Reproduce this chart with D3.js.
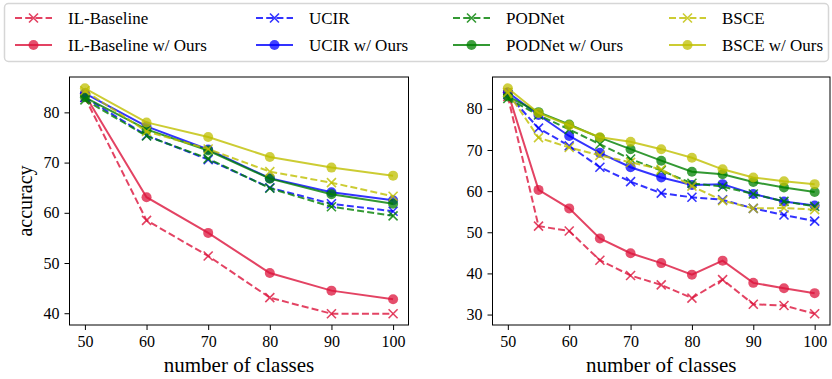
<!DOCTYPE html>
<html>
<head>
<meta charset="utf-8">
<script src="https://cdn.jsdelivr.net/npm/d3@7"></script>
<style>
  body { margin: 0; background: #fff; }
  svg { font-family: "Liberation Serif", "Times New Roman", serif; }
</style>
</head>
<body>
<div id="chart"></div>
<script>
// data
var leftClasses = [50, 60, 70, 80, 90, 100];
var rightClasses = [50, 55, 60, 65, 70, 75, 80, 85, 90, 95, 100];

var leftIL = [83.0, 58.5, 51.4, 43.1, 39.9, 39.9];
var leftILOurs = [83.5, 63.1, 56.0, 48.0, 44.5, 42.8];
var leftUCIR = [83.0, 75.4, 70.6, 65.0, 61.8, 60.3];
var leftUCIROurs = [83.8, 77.2, 72.6, 66.9, 64.1, 62.5];
var leftPOD = [82.5, 75.3, 70.8, 64.9, 61.2, 59.4];
var leftPODOurs = [83.0, 76.6, 72.4, 66.8, 63.7, 61.8];
var leftBSCE = [84.3, 76.2, 72.7, 68.2, 66.0, 63.3];
var leftBSCEOurs = [84.8, 78.0, 75.1, 71.1, 69.0, 67.4];

var rightIL = [83.0, 51.5, 50.3, 43.2, 39.5, 37.2, 34.0, 38.5, 32.5, 32.2, 30.2];
var rightILOurs = [84.0, 60.3, 55.8, 48.5, 44.9, 42.5, 39.7, 43.1, 37.7, 36.4, 35.2];
var rightUCIR = [83.5, 75.3, 71.0, 65.8, 62.3, 59.5, 58.5, 57.9, 55.8, 54.2, 52.7];
var rightUCIROurs = [84.0, 78.5, 73.4, 69.3, 65.8, 63.3, 61.5, 61.7, 59.3, 57.5, 56.5];
var rightPOD = [82.5, 78.5, 75.0, 71.4, 67.8, 65.0, 61.9, 61.1, 59.3, 57.5, 56.3];
var rightPODOurs = [83.0, 79.2, 76.2, 73.0, 70.2, 67.4, 64.7, 64.1, 62.2, 60.9, 59.8];
var rightBSCE = [84.0, 73.0, 70.6, 68.7, 67.0, 65.3, 61.2, 57.7, 55.8, 55.9, 55.5];
var rightBSCEOurs = [85.0, 79.0, 76.0, 73.1, 72.0, 70.2, 68.1, 65.3, 63.3, 62.4, 61.7];

var xTicks = [50, 60, 70, 80, 90, 100];
var leftYTicks = [40, 50, 60, 70, 80];
var rightYTicks = [30, 40, 50, 60, 70, 80];

var methods = ["IL-Baseline", "UCIR", "PODNet", "BSCE"];
var colors = ["#dc143c", "#0000ff", "#008000", "#bfbf00"];

var W = 832, H = 379;
var serif = '"Liberation Serif", "Times New Roman", serif';
var svg = d3.select("#chart").append("svg").attr("width", W).attr("height", H);

function drawMarker(g, cx, cy, col, circle) {
  if (circle) {
    g.append("circle").attr("cx", cx).attr("cy", cy).attr("r", 5)
      .attr("fill", col).attr("fill-opacity", 0.75);
  } else {
    var s = 4.5;
    g.append("path")
      .attr("d", "M" + (cx - s) + "," + (cy - s) + "L" + (cx + s) + "," + (cy + s) +
        "M" + (cx - s) + "," + (cy + s) + "L" + (cx + s) + "," + (cy - s))
      .attr("stroke", col).attr("stroke-opacity", 0.8).attr("stroke-width", 1.6);
  }
}

// legend
svg.append("rect")
  .attr("x", 4.5).attr("y", 3.5).attr("width", 824).attr("height", 58)
  .attr("rx", 4).attr("fill", "#fff").attr("stroke", "#d6d6d6").attr("stroke-width", 1.5);

var legendCols = [15, 256, 453, 669];
methods.forEach(function (m, i) {
  [false, true].forEach(function (ours, r) {
    var g = svg.append("g").attr("transform", "translate(" + legendCols[i] + "," + (18 + r * 27) + ")");
    g.append("line").attr("x1", 0).attr("x2", 37).attr("y1", 0).attr("y2", 0)
      .attr("stroke", colors[i]).attr("stroke-opacity", 0.8).attr("stroke-width", 2)
      .attr("stroke-dasharray", ours ? null : "7,3.2");
    drawMarker(g, 18.5, 0, colors[i], ours);
    g.append("text").attr("x", 53).attr("y", 0).attr("dy", "0.35em")
      .style("font-family", serif).attr("font-size", 17).attr("fill", "#000")
      .text(ours ? m + " w/ Ours" : m);
  });
});

function panel(box, xs, series, ticksY, ylabel) {
  var all = [];
  series.forEach(function (s) { all = all.concat(s); });
  var ext = d3.extent(all);
  var pad = (ext[1] - ext[0]) * 0.05;
  var xpad = (d3.max(xs) - d3.min(xs)) * 0.05;
  var x = d3.scaleLinear().domain([d3.min(xs) - xpad, d3.max(xs) + xpad]).range([box.left, box.right]);
  var y = d3.scaleLinear().domain([ext[0] - pad, ext[1] + pad]).range([box.bottom, box.top]);

  var g = svg.append("g");

  // baselines dashed w/ x, ours solid w/ circle
  for (var i = 0; i < 4; i++) {
    [false, true].forEach(function (ours) {
      var vals = series[i * 2 + (ours ? 1 : 0)];
      var pts = xs.map(function (c, k) { return [c, vals[k]]; });
      var line = d3.line().x(function (d) { return x(d[0]); }).y(function (d) { return y(d[1]); });
      g.append("path").datum(pts).attr("d", line).attr("fill", "none")
        .attr("stroke", colors[i]).attr("stroke-opacity", 0.8).attr("stroke-width", 2)
        .attr("stroke-dasharray", ours ? null : "7,3.2");
      pts.forEach(function (p) { drawMarker(g, x(p[0]), y(p[1]), colors[i], ours); });
    });
  }

  // frame
  svg.append("rect").attr("x", box.left).attr("y", box.top)
    .attr("width", box.right - box.left).attr("height", box.bottom - box.top)
    .attr("fill", "none").attr("stroke", "#000").attr("stroke-width", 1);

  var xAxis = svg.append("g").attr("transform", "translate(0," + box.bottom + ")")
    .call(d3.axisBottom(x).tickValues(xTicks).tickSize(5).tickPadding(6));
  var yAxis = svg.append("g").attr("transform", "translate(" + box.left + ",0)")
    .call(d3.axisLeft(y).tickValues(ticksY).tickSize(5).tickPadding(5));
  [xAxis, yAxis].forEach(function (a) {
    a.attr("font-family", null).attr("font-size", null);
    a.select(".domain").remove();
    a.selectAll("text").style("font-family", serif).style("font-size", "16px").attr("fill", "#000");
    a.selectAll("line").attr("stroke", "#000");
  });

  svg.append("text").attr("x", (box.left + box.right) / 2).attr("y", 372)
    .attr("text-anchor", "middle").style("font-family", serif).style("font-size", "21px")
    .text("number of classes");
  if (ylabel) {
    svg.append("text").attr("transform", "translate(32," + ((box.top + box.bottom) / 2) + ") rotate(-90)")
      .attr("text-anchor", "middle").style("font-family", serif).style("font-size", "20px")
      .text(ylabel);
  }
}

panel({ left: 69.5, right: 408.5, top: 77, bottom: 325 }, leftClasses,
  [leftIL, leftILOurs, leftUCIR, leftUCIROurs, leftPOD, leftPODOurs, leftBSCE, leftBSCEOurs],
  leftYTicks, "accuracy");
panel({ left: 492.5, right: 830, top: 77, bottom: 325 }, rightClasses,
  [rightIL, rightILOurs, rightUCIR, rightUCIROurs, rightPOD, rightPODOurs, rightBSCE, rightBSCEOurs],
  rightYTicks, null);
</script>
</body>
</html>
